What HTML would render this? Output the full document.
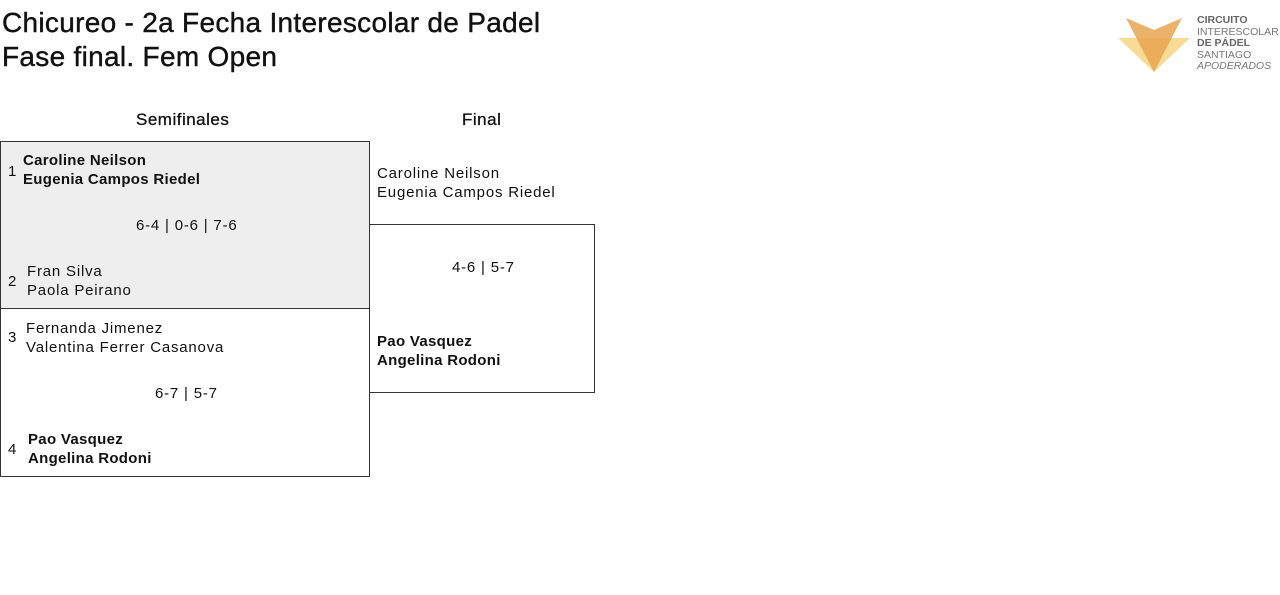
<!DOCTYPE html>
<html><head><meta charset="utf-8"><style>
body{margin:0;width:1280px;height:595px;background:#fff;font-family:"Liberation Sans",sans-serif;color:#111;position:relative;overflow:hidden}
.a{position:absolute;white-space:nowrap}
.t{font-size:28px;letter-spacing:0.3px;line-height:34px;left:2px;-webkit-text-stroke:0.4px #111}
.n{font-size:15px;letter-spacing:0.8px;line-height:19px}
.b{font-weight:bold;letter-spacing:0.3px}
.h{font-size:17px;letter-spacing:0.5px;-webkit-text-stroke:0.3px #111}
.box{position:absolute;border:1px solid #333;box-sizing:border-box}
</style></head><body>
<div class="a t" style="top:6px">Chicureo - 2a Fecha Interescolar de Padel</div>
<div class="a t" style="top:40px">Fase final. Fem Open</div>

<svg class="a" style="left:1118px;top:16px" width="75" height="58" viewBox="0 0 75 58">
<polygon points="0,22 72,22 36,56" fill="#f9d27a" opacity="0.8"/>
<polygon points="8,2 36,14 64,2 36,56" fill="#e8a550" opacity="0.85"/>
</svg>
<div class="a" style="left:1197px;top:15px;font-size:10.5px;line-height:11.5px;color:#777">
<b style="color:#666">CIRCUITO</b><br>INTERESCOLAR<br><b style="color:#666">DE PÁDEL</b><br>SANTIAGO<br><i>APODERADOS</i></div>

<div class="a h" style="left:136px;top:110px">Semifinales</div>
<div class="a h" style="left:462px;top:110px">Final</div>

<div class="box" style="left:0;top:141px;width:370px;height:168px;background:#eee"></div>
<div class="box" style="left:0;top:308px;width:370px;height:169px"></div>
<div class="box" style="left:369px;top:224px;width:226px;height:169px"></div>

<div class="a n" style="left:8px;top:162px">1</div>
<div class="a n b" style="left:23px;top:151px">Caroline Neilson<br>Eugenia Campos Riedel</div>
<div class="a n" style="left:136px;top:216px">6-4 | 0-6 | 7-6</div>
<div class="a n" style="left:8px;top:272px">2</div>
<div class="a n" style="left:27px;top:262px">Fran Silva<br>Paola Peirano</div>

<div class="a n" style="left:8px;top:328px">3</div>
<div class="a n" style="left:26px;top:319px">Fernanda Jimenez<br>Valentina Ferrer Casanova</div>
<div class="a n" style="left:155px;top:384px">6-7 | 5-7</div>
<div class="a n" style="left:8px;top:440px">4</div>
<div class="a n b" style="left:28px;top:430px">Pao Vasquez<br>Angelina Rodoni</div>

<div class="a n" style="left:377px;top:164px">Caroline Neilson<br>Eugenia Campos Riedel</div>
<div class="a n" style="left:452px;top:258px">4-6 | 5-7</div>
<div class="a n b" style="left:377px;top:332px">Pao Vasquez<br>Angelina Rodoni</div>
</body></html>
